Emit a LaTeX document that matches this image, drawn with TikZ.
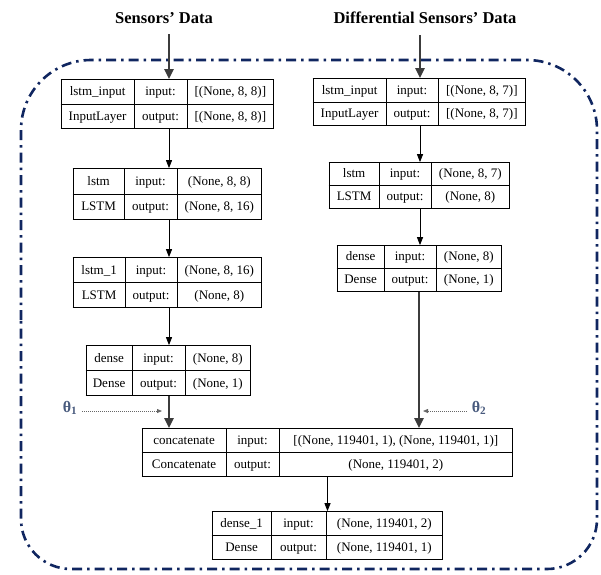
\documentclass[tikz,border=0pt]{standalone}
\usepackage{fontspec}
\setmainfont{Liberation Serif}
\usepackage{array}
\usetikzlibrary{arrows.meta}

\definecolor{framenavy}{RGB}{16,38,96}
\definecolor{thetablue}{RGB}{72,90,125}
\definecolor{thickgray}{RGB}{60,60,60}

% centred fixed-width column
\newcolumntype{C}[1]{>{\centering\arraybackslash}p{#1}}
\newlength\rowht
\newcommand\cellstrut{\rule[-0.33\rowht]{0pt}{\rowht}}
% one Keras layer table: widths of the three columns, then name, input shape, type, output shape
\newcommand\layertab[7]{%
  \setlength\tabcolsep{0pt}\setlength\arrayrulewidth{0.9pt}%
  \begin{tabular}{|C{#1}|C{#2}|C{#3}|}\hline
  \cellstrut #4 & input: & #5\\\hline
  \cellstrut #6 & output: & #7\\\hline
  \end{tabular}}

\begin{document}
\begin{tikzpicture}[x=1pt,y=-1pt,
  layer/.style={inner sep=0pt, outer sep=0pt, font=\fontsize{13}{15.6}\selectfont},
  title/.style={font=\fontsize{16.5}{19}\selectfont\bfseries},
  theta/.style={font=\fontsize{16}{18}\selectfont\bfseries, text=thetablue, inner sep=1pt},
  thinarrow/.style={draw=black, line width=0.9pt, -{Triangle[length=8pt,width=6pt]}},
  thickarrow/.style={draw=thickgray, line width=2.4pt, -{Triangle[length=10pt,width=9pt]}},
  hintarrow/.style={draw=black!60, line width=0.8pt, dash pattern=on 1pt off 1pt,
                    -{Triangle[length=5pt,width=4pt]}},
  frame/.style={draw=framenavy, line width=2.6pt,
                dash pattern=on 10pt off 5pt on 2.5pt off 5pt},
]
\useasboundingbox (0,0) rectangle (601,574);

% dash-dot enclosure, larger rounding on the top corners
\draw[frame, rounded corners=70pt] (21,320) -- (21,60) -- (597,60) -- (597,320);
\draw[frame, rounded corners=50pt] (597,320) -- (597,569) -- (21,569) -- (21,320);

% input titles
\node[title] (tS) at (164,18) {Sensors’ Data};
\node[title] (tD) at (425,18) {Differential Sensors’ Data};

% left branch
\node[layer] (l1) at (167.5,104) {\setlength\rowht{23.5pt}%
  \layertab{72pt}{52pt}{86pt}{lstm\_input}{[(None, 8, 8)]}{InputLayer}{[(None, 8, 8)]}};
\node[layer] (l2) at (167.5,194) {\setlength\rowht{24.5pt}%
  \layertab{50pt}{52pt}{84pt}{lstm}{(None, 8, 8)}{LSTM}{(None, 8, 16)}};
\node[layer] (l3) at (167.5,282.5) {\setlength\rowht{24pt}%
  \layertab{51pt}{51pt}{84pt}{lstm\_1}{(None, 8, 16)}{LSTM}{(None, 8)}};
\node[layer] (l4) at (168.5,370.5) {\setlength\rowht{24pt}%
  \layertab{45pt}{52pt}{65pt}{dense}{(None, 8)}{Dense}{(None, 1)}};

% right branch
\node[layer] (r1) at (419.5,102) {\setlength\rowht{22.5pt}%
  \layertab{72pt}{51pt}{87pt}{lstm\_input}{[(None, 8, 7)]}{InputLayer}{[(None, 8, 7)]}};
\node[layer] (r2) at (419.5,185.5) {\setlength\rowht{22pt}%
  \layertab{49pt}{51pt}{78pt}{lstm}{(None, 8, 7)}{LSTM}{(None, 8)}};
\node[layer] (r3) at (419.5,268.5) {\setlength\rowht{22pt}%
  \layertab{46pt}{51pt}{65pt}{dense}{(None, 8)}{Dense}{(None, 1)}};

% merge and output
\node[layer] (c) at (327.5,452.5) {\setlength\rowht{23pt}%
  \layertab{83pt}{52pt}{233pt}{concatenate}{[(None, 119401, 1), (None, 119401, 1)]}{Concatenate}{(None, 119401, 2)}};
\node[layer] (d) at (327.5,535.5) {\setlength\rowht{23pt}%
  \layertab{58pt}{54pt}{116pt}{dense\_1}{(None, 119401, 2)}{Dense}{(None, 119401, 1)}};

% input arrows
\coordinate (s0) at (169,34);
\coordinate (d0) at (420,35);
\draw[thickarrow] (s0) -- (s0 |- l1.north);
\draw[thickarrow] (d0) -- (d0 |- r1.north);

% layer connections
\draw[thinarrow] (l1.south -| s0) -- (l2.north -| s0);
\draw[thinarrow] (l2.south -| s0) -- (l3.north -| s0);
\draw[thinarrow] (l3.south -| s0) -- (l4.north -| s0);
\draw[thinarrow] (r1.south -| d0) -- (r2.north -| d0);
\draw[thinarrow] (r2.south -| d0) -- (r3.north -| d0);
\draw[thickarrow] (l4.south -| s0) -- (c.north -| s0);
\coordinate (rj) at (419,0);
\draw[thickarrow] (r3.south -| rj) -- (c.north -| rj);
\draw[thinarrow] (c.south) -- (d.north);

% merge weights
\node[theta] (th1) at (70,408) {θ\textsubscript{1}};
\node[theta] (th2) at (479,408) {θ\textsubscript{2}};
\coordinate (h1) at (162,411);
\coordinate (h2) at (423,411);
\draw[hintarrow] (th1.east |- h1) ++(4,0) -- (h1);
\draw[hintarrow] (th2.west |- h2) ++(-4,0) -- (h2);
\end{tikzpicture}
\end{document}
